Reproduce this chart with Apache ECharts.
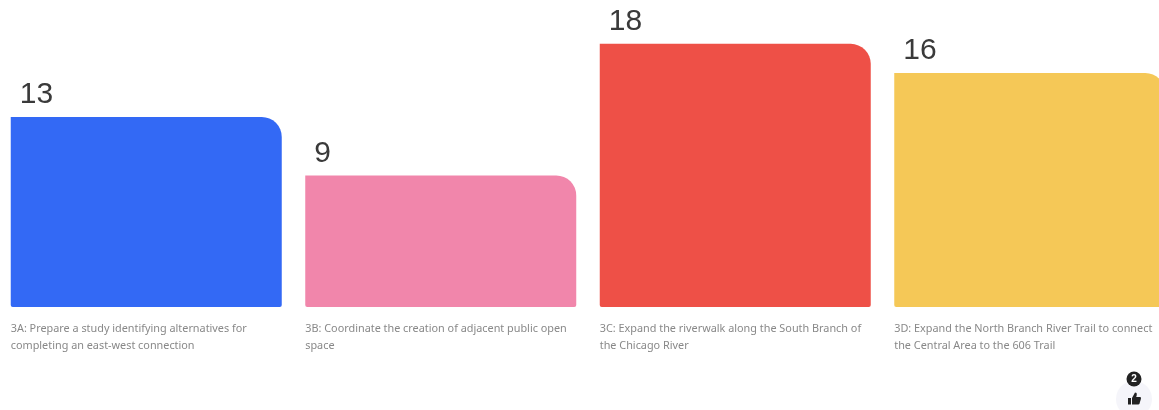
<!DOCTYPE html>
<html>
<head>
<meta charset="utf-8">
<style>html,body{margin:0;padding:0;background:#fff}#chart{width:1159px;height:410px}</style>
<script src="https://cdn.jsdelivr.net/npm/echarts@6/dist/echarts.min.js"></script>
</head>
<body>
<div id="chart"></div>
<script>
// Vote counts per strategy
const categories = [
  '3A: Prepare a study identifying alternatives for\ncompleting an east-west connection',
  '3B: Coordinate the creation of adjacent public open\nspace',
  '3C: Expand the riverwalk along the South Branch of\nthe Chicago River',
  '3D: Expand the North Branch River Trail to connect\nthe Central Area to the 606 Trail'
];
const votes = [13, 9, 18, 16];
const barColors = ['#3369F5', '#F186AB', '#EE5047', '#F5C857'];
const likeCount = '2';

const chart = echarts.init(document.getElementById('chart'), null, {renderer: 'canvas'});
chart.setOption({
  animation: false,
  backgroundColor: '#fff',
  grid: {left: -1, top: 0, width: 1178, height: 307, containLabel: false, outerBoundsMode: 'none'},
  xAxis: {
    type: 'category',
    data: categories,
    axisLine: {show: false},
    axisTick: {show: false},
    axisLabel: {
      interval: 0,
      margin: 13,
      hideOverlap: false,
      // Left-align the caption with its bar inside a bar-wide box
      formatter: v => v.split('\n').map(l => '{c|' + l + '}').join('\n'),
      rich: {c: {width: 271, align: 'left', fontFamily: 'Noto Sans', fontSize: 10.85, lineHeight: 17, color: '#888888'}}
    }
  },
  yAxis: {type: 'value', min: 0, max: 21, show: false},
  series: [{
    type: 'bar',
    barWidth: 271,
    data: votes.map((v, i) => ({value: v, itemStyle: {color: barColors[i]}})),
    itemStyle: {borderRadius: [0, 20, 2, 2]},
    label: {
      show: true,
      position: [9, -37],
      fontFamily: 'Liberation Sans',
      fontSize: 30,
      color: '#3a3a3a'
    }
  }],
  graphic: [
    {type: 'circle', shape: {cx: 1134, cy: 399, r: 18}, style: {fill: '#F5F5FA'}},
    {type: 'circle', shape: {cx: 1134, cy: 379, r: 7.5}, style: {fill: '#222222'}},
    {type: 'text', x: 1134, y: 379, style: {text: likeCount, fill: '#fff', font: 'bold 10px "Liberation Sans"', textAlign: 'center', textVerticalAlign: 'middle'}},
    // Thumbs-up glyph: cuff and hand
    {type: 'rect', shape: {x: 1128, y: 398, width: 3, height: 6.5}, style: {fill: '#222222'}},
    {type: 'polygon', shape: {points: [[1132, 398], [1135, 392.5], [1136.6, 393], [1136.8, 395], [1136.2, 397], [1140.6, 397], [1141, 398.5], [1139.4, 404], [1138.4, 404.5], [1132, 404.5]]}, style: {fill: '#222222'}}
  ]
});
</script>
</body>
</html>
